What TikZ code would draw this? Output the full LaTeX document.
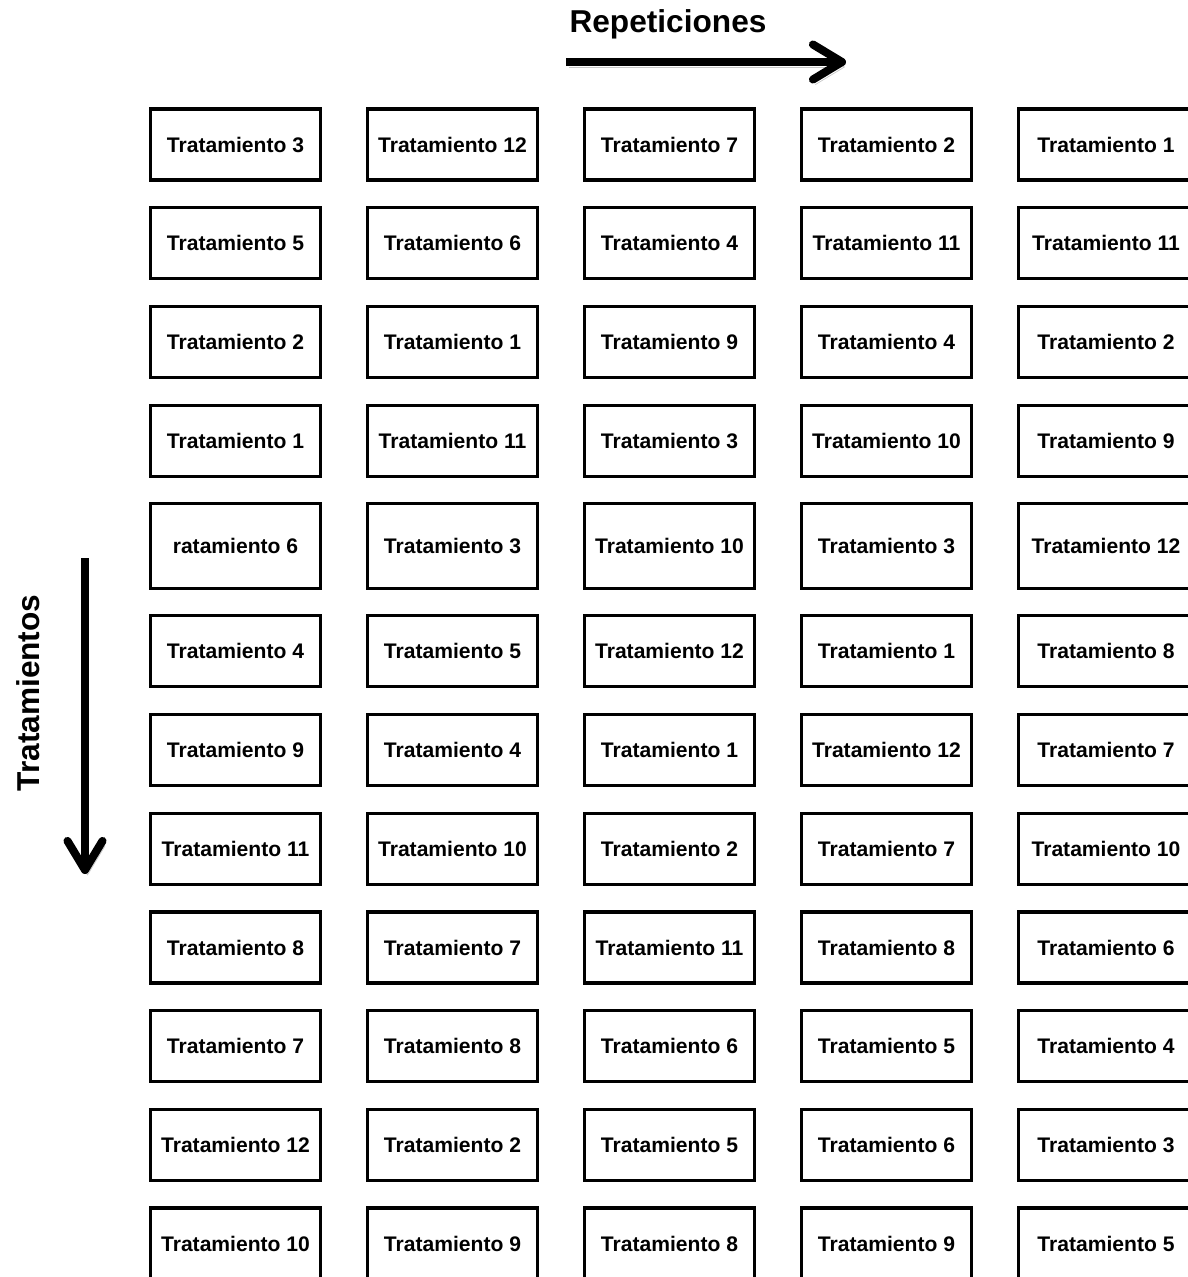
\documentclass[tikz,border=0pt]{standalone}
\usepackage{fontspec}
\setmainfont{Liberation Sans}
\usetikzlibrary{arrows.meta}

\begin{document}
\begin{tikzpicture}[cell/.style={draw=black, line width=1.8pt, minimum width=3.40cm, minimum height=1.42cm, inner sep=0pt, font=\fontsize{12}{14}\selectfont\bfseries},
  lastcell/.style={cell, minimum width=3.50cm},
  axislabel/.style={font=\fontsize{18}{21}\selectfont\bfseries},
  bigarrow/.style={line width=4.6pt, -{Straight Barb[length=0.58cm, width=0.70cm, round]}, preaction={draw=black!22, transform canvas={shift={(0.05cm,-0.10cm)}}}}]
\clip (0,0) rectangle (23.76,-25.54);

\node[axislabel] (rep) at (13.36,-0.48) {Repeticiones};
\coordinate (rs) at (11.32,-1.24);
\coordinate (re) at (16.92,-1.24);
\node[axislabel, rotate=90] (trat) at (0.56,-13.86) {Tratamientos};
\coordinate (ts) at (1.70,-11.16);
\coordinate (te) at (1.70,-17.48);

\draw[bigarrow] (rs) to (re);
\draw[bigarrow] (ts) to (te);

\node[cell] (a1) at (4.71,-2.89) {Tratamiento 3};
\node[cell] (b1) at (9.05,-2.89) {Tratamiento 12};
\node[cell] (c1) at (13.39,-2.89) {Tratamiento 7};
\node[cell] (d1) at (17.73,-2.89) {Tratamiento 2};
\node[lastcell] (e1) at (22.12,-2.89) {Tratamiento 1};

\node[cell] (a2) at (4.71,-4.86) {Tratamiento 5};
\node[cell] (b2) at (9.05,-4.86) {Tratamiento 6};
\node[cell] (c2) at (13.39,-4.86) {Tratamiento 4};
\node[cell] (d2) at (17.73,-4.86) {Tratamiento 11};
\node[lastcell] (e2) at (22.12,-4.86) {Tratamiento 11};

\node[cell] (a3) at (4.71,-6.84) {Tratamiento 2};
\node[cell] (b3) at (9.05,-6.84) {Tratamiento 1};
\node[cell] (c3) at (13.39,-6.84) {Tratamiento 9};
\node[cell] (d3) at (17.73,-6.84) {Tratamiento 4};
\node[lastcell] (e3) at (22.12,-6.84) {Tratamiento 2};

\node[cell] (a4) at (4.71,-8.82) {Tratamiento 1};
\node[cell] (b4) at (9.05,-8.82) {Tratamiento 11};
\node[cell] (c4) at (13.39,-8.82) {Tratamiento 3};
\node[cell] (d4) at (17.73,-8.82) {Tratamiento 10};
\node[lastcell] (e4) at (22.12,-8.82) {Tratamiento 9};

\node[cell, minimum height=1.70cm] (a5) at (4.71,-10.92) {ratamiento 6};
\node[cell, minimum height=1.70cm] (b5) at (9.05,-10.92) {Tratamiento 3};
\node[cell, minimum height=1.70cm] (c5) at (13.39,-10.92) {Tratamiento 10};
\node[cell, minimum height=1.70cm] (d5) at (17.73,-10.92) {Tratamiento 3};
\node[lastcell, minimum height=1.70cm] (e5) at (22.12,-10.92) {Tratamiento 12};

\node[cell] (a6) at (4.71,-13.02) {Tratamiento 4};
\node[cell] (b6) at (9.05,-13.02) {Tratamiento 5};
\node[cell] (c6) at (13.39,-13.02) {Tratamiento 12};
\node[cell] (d6) at (17.73,-13.02) {Tratamiento 1};
\node[lastcell] (e6) at (22.12,-13.02) {Tratamiento 8};

\node[cell] (a7) at (4.71,-15.00) {Tratamiento 9};
\node[cell] (b7) at (9.05,-15.00) {Tratamiento 4};
\node[cell] (c7) at (13.39,-15.00) {Tratamiento 1};
\node[cell] (d7) at (17.73,-15.00) {Tratamiento 12};
\node[lastcell] (e7) at (22.12,-15.00) {Tratamiento 7};

\node[cell] (a8) at (4.71,-16.98) {Tratamiento 11};
\node[cell] (b8) at (9.05,-16.98) {Tratamiento 10};
\node[cell] (c8) at (13.39,-16.98) {Tratamiento 2};
\node[cell] (d8) at (17.73,-16.98) {Tratamiento 7};
\node[lastcell] (e8) at (22.12,-16.98) {Tratamiento 10};

\node[cell] (a9) at (4.71,-18.95) {Tratamiento 8};
\node[cell] (b9) at (9.05,-18.95) {Tratamiento 7};
\node[cell] (c9) at (13.39,-18.95) {Tratamiento 11};
\node[cell] (d9) at (17.73,-18.95) {Tratamiento 8};
\node[lastcell] (e9) at (22.12,-18.95) {Tratamiento 6};

\node[cell] (a10) at (4.71,-20.92) {Tratamiento 7};
\node[cell] (b10) at (9.05,-20.92) {Tratamiento 8};
\node[cell] (c10) at (13.39,-20.92) {Tratamiento 6};
\node[cell] (d10) at (17.73,-20.92) {Tratamiento 5};
\node[lastcell] (e10) at (22.12,-20.92) {Tratamiento 4};

\node[cell] (a11) at (4.71,-22.90) {Tratamiento 12};
\node[cell] (b11) at (9.05,-22.90) {Tratamiento 2};
\node[cell] (c11) at (13.39,-22.90) {Tratamiento 5};
\node[cell] (d11) at (17.73,-22.90) {Tratamiento 6};
\node[lastcell] (e11) at (22.12,-22.90) {Tratamiento 3};

\node[cell] (a12) at (4.71,-24.87) {Tratamiento 10};
\node[cell] (b12) at (9.05,-24.87) {Tratamiento 9};
\node[cell] (c12) at (13.39,-24.87) {Tratamiento 8};
\node[cell] (d12) at (17.73,-24.87) {Tratamiento 9};
\node[lastcell] (e12) at (22.12,-24.87) {Tratamiento 5};
\end{tikzpicture}
\end{document}
